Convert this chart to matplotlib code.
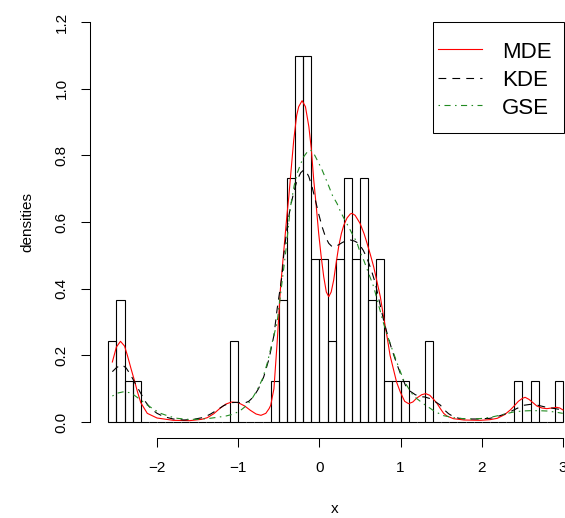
import matplotlib
matplotlib.use("Agg")
import matplotlib.pyplot as plt
import numpy as np
from matplotlib.patches import Rectangle

plt.rcParams['font.family'] = ['Liberation Sans', 'DejaVu Sans']
plt.rcParams['lines.scale_dashes'] = False

# ---------------- data ----------------
n_obs = 82
bin_width = 0.1
bin_start = -2.6
bin_counts = [2, 3, 1, 1, 0, 0, 0, 0, 0, 0, 0, 0, 0, 0, 0, 2, 0, 0, 0, 0,
              1, 3, 6, 9, 9, 4, 4, 2, 4, 6, 4, 6, 3, 4, 1, 1, 1, 0, 0, 2,
              0, 0, 0, 0, 0, 0, 0, 0, 0, 0, 1, 0, 1, 0, 0, 1]

mde_x = [-2.55, -2.50, -2.45, -2.40, -2.365, -2.32, -2.28, -2.24, -2.20, -2.12, -2.0, -1.8, -1.6,
         -1.45, -1.38, -1.30, -1.22, -1.15, -1.08, -1.00, -0.92, -0.85, -0.78, -0.72, -0.66, -0.62,
         -0.60, -0.56, -0.52, -0.48, -0.44, -0.40, -0.377, -0.34, -0.316, -0.28, -0.255, -0.213,
         -0.172, -0.13, -0.10, -0.07, -0.04, -0.009, 0.02, 0.053, 0.085, 0.115, 0.145, 0.176, 0.205,
         0.237, 0.27, 0.30, 0.34, 0.38, 0.40, 0.44, 0.50, 0.55, 0.587, 0.63, 0.668, 0.71, 0.75, 0.79,
         0.833, 0.87, 0.914, 0.95, 0.996, 1.05, 1.098, 1.15, 1.20, 1.26, 1.31, 1.36, 1.406, 1.448,
         1.49, 1.53, 1.57, 1.65, 1.78, 1.98, 2.10, 2.19, 2.28, 2.35, 2.39, 2.45, 2.50, 2.534, 2.58,
         2.63, 2.678, 2.74, 2.80, 2.86, 2.924, 2.96, 3.0]
mde_y = [0.18, 0.225, 0.242, 0.228, 0.20, 0.16, 0.126, 0.09, 0.058, 0.026, 0.012, 0.005, 0.004,
         0.008, 0.013, 0.025, 0.042, 0.054, 0.060, 0.058, 0.048, 0.035, 0.024, 0.020, 0.026, 0.04,
         0.05, 0.10, 0.24, 0.40, 0.51, 0.62, 0.676, 0.78, 0.846, 0.92, 0.946, 0.964,
         0.946, 0.886, 0.82, 0.726, 0.65, 0.566, 0.50, 0.436, 0.39, 0.376, 0.39, 0.426, 0.475,
         0.526, 0.565, 0.590, 0.612, 0.624, 0.626, 0.62, 0.596, 0.565, 0.536, 0.50, 0.466, 0.42, 0.376, 0.316,
         0.256, 0.20, 0.156, 0.12, 0.09, 0.062, 0.055, 0.060, 0.072, 0.082, 0.085, 0.080, 0.068, 0.056,
         0.04, 0.026, 0.018, 0.010, 0.006, 0.005, 0.007, 0.011, 0.022, 0.036, 0.046, 0.062, 0.071, 0.074, 0.068,
         0.058, 0.048, 0.042, 0.040, 0.042, 0.044, 0.042, 0.036]

kde_x = [-2.55, -2.50, -2.45, -2.427, -2.38, -2.324, -2.26, -2.20, -2.14, -2.08, -2.00, -1.915, -1.80,
         -1.67, -1.55, -1.42, -1.34, -1.26, -1.18, -1.095, -1.01, -0.93, -0.87, -0.81, -0.75, -0.685,
         -0.62, -0.56, -0.52, -0.46, -0.44, -0.40, -0.357, -0.31, -0.274, -0.23, -0.193, -0.16, -0.13,
         -0.09, -0.05, -0.01, 0.033, 0.075, 0.115, 0.156, 0.197, 0.24, 0.279, 0.33, 0.38, 0.43, 0.484,
         0.54, 0.587, 0.64, 0.689, 0.74, 0.79, 0.84, 0.894, 0.945, 0.996, 1.06, 1.12, 1.18, 1.242, 1.30,
         1.365, 1.42, 1.488, 1.54, 1.59, 1.65, 1.72, 1.817, 1.95, 2.10, 2.20, 2.31, 2.41, 2.513, 2.60,
         2.678, 2.78, 2.88, 2.997]
kde_y = [0.151, 0.163, 0.170, 0.171, 0.162, 0.141, 0.112, 0.086, 0.06, 0.041, 0.026, 0.016, 0.009,
         0.006, 0.008, 0.014, 0.024, 0.036, 0.049, 0.058, 0.059, 0.056, 0.062, 0.076, 0.10, 0.136,
         0.19, 0.26, 0.34, 0.44, 0.50, 0.58, 0.646, 0.695, 0.726, 0.748, 0.756, 0.750, 0.736,
         0.705, 0.666, 0.625, 0.586, 0.555, 0.536, 0.526, 0.526, 0.532, 0.538, 0.544, 0.546, 0.543, 0.536,
         0.515, 0.491, 0.455, 0.416, 0.36, 0.306, 0.26, 0.216, 0.18, 0.146, 0.11, 0.092, 0.082, 0.076, 0.075,
         0.070, 0.062, 0.051, 0.036, 0.025, 0.016, 0.011, 0.009, 0.009, 0.011, 0.017, 0.026, 0.038, 0.050, 0.053,
         0.051, 0.045, 0.041, 0.036]

gse_x = [-2.55, -2.48, -2.407, -2.34, -2.284, -2.20, -2.12, -2.04, -1.956, -1.85, -1.75, -1.62, -1.50,
         -1.38, -1.26, -1.15, -1.054, -0.97, -0.89, -0.83, -0.766, -0.70, -0.643, -0.58, -0.52, -0.46,
         -0.41, -0.357, -0.31, -0.274, -0.23, -0.193, -0.15, -0.11, -0.07, -0.028, 0.03, 0.095, 0.16,
         0.218, 0.258, 0.30, 0.36, 0.422, 0.46, 0.50, 0.545, 0.60, 0.668, 0.73, 0.79, 0.85, 0.914, 0.975,
         1.037, 1.10, 1.16, 1.20, 1.28, 1.365, 1.406, 1.46, 1.53, 1.652, 1.77, 1.898, 2.02, 2.144, 2.27,
         2.39, 2.50, 2.595, 2.70, 2.80, 2.90, 2.997]
gse_y = [0.078, 0.087, 0.091, 0.088, 0.081, 0.066, 0.051, 0.038, 0.026, 0.017, 0.011, 0.008, 0.008,
         0.010, 0.014, 0.018, 0.024, 0.035, 0.051, 0.07, 0.096, 0.13, 0.176, 0.24, 0.30, 0.42,
         0.52, 0.645, 0.71, 0.746, 0.775, 0.796, 0.81, 0.816, 0.806, 0.786, 0.758, 0.72, 0.68,
         0.655, 0.632, 0.612, 0.585, 0.556, 0.54, 0.51, 0.486, 0.45, 0.406, 0.35, 0.296, 0.25, 0.206, 0.165,
         0.126, 0.10, 0.078, 0.07, 0.055, 0.041, 0.034, 0.027, 0.019, 0.013, 0.010, 0.009, 0.011, 0.016, 0.023,
         0.030, 0.033, 0.034, 0.034, 0.033, 0.030, 0.026]

x_ticks = [-2, -1, 0, 1, 2, 3]
y_ticks = [0.0, 0.2, 0.4, 0.6, 0.8, 1.0, 1.2]
legend_labels = ["MDE", "KDE", "GSE"]

# ---------------- figure ----------------
W, H = 565, 518
fig = plt.figure(figsize=(W / 100, H / 100), dpi=100)
ax = fig.add_axes([90.1 / W, (H - 438) / H, (581.2 - 90.1) / W, (438 - 6) / H])
ax.set_xlim(-2.824, 3.224)
ax.set_ylim(-0.048, 1.248)

counts = np.array(bin_counts, dtype=float)
lefts = bin_start + bin_width * np.arange(len(counts))
dens = counts / (n_obs * bin_width)
ax.bar(lefts, dens, width=bin_width, align='edge', fill=False,
       edgecolor='black', linewidth=0.8, zorder=1)

red_style = dict(color='red', lw=0.8)
blk_style = dict(color='black', lw=0.8, dashes=(5.6, 4.4))
grn_style = dict(color='#228B22', lw=0.8, dashes=(1.1, 3.2, 4.4, 3.2))

ax.plot(mde_x, mde_y, **red_style, zorder=3)
ax.plot(kde_x, kde_y, **blk_style, zorder=3)
ax.plot(gse_x, gse_y, **grn_style, zorder=3)

# axes like R base graphics
for s in ['top', 'right']:
    ax.spines[s].set_visible(False)
ax.spines['left'].set_bounds(y_ticks[0], y_ticks[-1])
ax.spines['bottom'].set_bounds(x_ticks[0], x_ticks[-1])
for s in ['left', 'bottom']:
    ax.spines[s].set_linewidth(0.75)
ax.set_xticks(x_ticks)
ax.set_xticklabels([("\u2212%d" % -t) if t < 0 else str(t) for t in x_ticks])
ax.set_yticks(y_ticks)
ax.set_yticklabels(["%.1f" % t for t in y_ticks], rotation=90, va='center')
ax.tick_params(axis='both', direction='out', length=6.5, width=0.75, labelsize=11, colors='black')
ax.tick_params(axis='x', pad=10)
ax.tick_params(axis='y', pad=9)

fig.text(27 / W, 1 - 222 / H, "densities", rotation=90, ha='center', va='center', fontsize=11)
fig.text(335 / W, 1 - 509 / H, "x", ha='center', va='center', fontsize=11)

# legend box (R style, top-left anchored at data (1.4, 1.2))
ax.add_patch(Rectangle((1.395, 0.866), 3.012 - 1.395, 1.2 - 0.866, fill=False,
                       edgecolor='black', lw=0.75, zorder=4, clip_on=False))
styles = [red_style, blk_style, grn_style]
rows_line = [1.118, 1.031, 0.950]
rows_text = [1.093, 1.008, 0.924]
for lab, st, yl, yt in zip(legend_labels, styles, rows_line, rows_text):
    ax.plot([1.464, 1.999], [yl, yl], **st, zorder=4, clip_on=False)
    ax.text(2.253, yt, lab, fontsize=16, ha='left', va='baseline', zorder=4)

fig.savefig("out.png", dpi=100)
